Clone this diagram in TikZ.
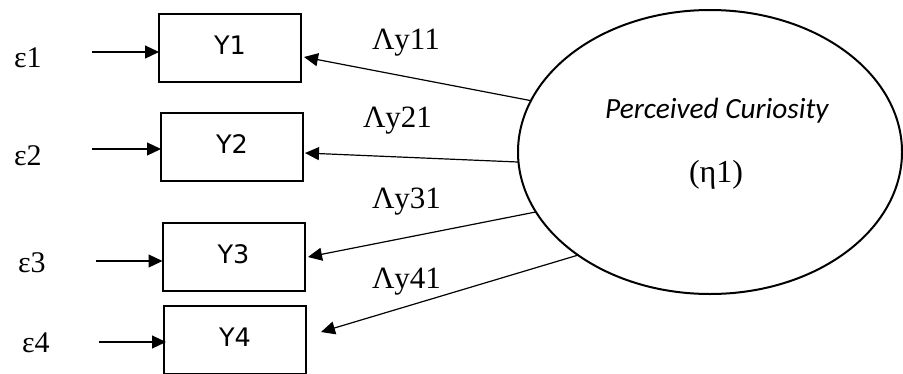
\documentclass[tikz,border=0pt]{standalone}
\usepackage{fontspec}
\setmainfont{Liberation Serif}
\newfontfamily\boxfont{DejaVu Sans}
\newfontfamily\calfont{Carlito}
\usetikzlibrary{shapes.geometric,arrows.meta}

\begin{document}
\begin{tikzpicture}[x=1pt,y=-1pt,
  obs/.style={draw,line width=2pt,minimum width=142pt,minimum height=68pt,
    inner sep=0pt,outer sep=0pt,text depth=5pt,
    font=\boxfont\fontsize{25.5}{28}\selectfont},
  arr/.style={line width=1.2pt,-{Triangle[length=14pt,width=13pt]}},
  lbl/.style={anchor=base west,inner sep=0pt,outer sep=0pt,
    font=\fontsize{31}{34}\selectfont},
]
\useasboundingbox (0,0) rectangle (903,373);
\clip (0,0) rectangle (903,373);

% observed indicators
\node[obs] (Y1) at (230,48)  {Y1};
\node[obs] (Y2) at (232,146.5) {Y2};
\node[obs] (Y3) at (233.5,256.5) {Y3};
\node[obs] (Y4) at (235,340) {Y4};

% latent construct
\node[draw,ellipse,line width=2pt,minimum width=384pt,minimum height=284pt,
  inner sep=0pt,outer sep=0pt] (eta) at (710,152) {};
\node[anchor=base west,inner sep=0pt,font=\calfont\itshape\fontsize{29.3}{32}\selectfont]
  (etaname) at (605,118) {Perceived Curiosity};
\node[lbl,font=\fontsize{32}{35}\selectfont] (etasym) at (689,182) {(η1)};

% error terms
\node[lbl,font=\fontsize{30}{33}\selectfont] (e1) at (14,67)  {ε1};
\node[lbl,font=\fontsize{30}{33}\selectfont] (e2) at (14,165) {ε2};
\node[lbl,font=\fontsize{30}{33}\selectfont] (e3) at (18,272) {ε3};
\node[lbl,font=\fontsize{30}{33}\selectfont] (e4) at (22,352) {ε4};

\coordinate (s1) at (92,52);
\coordinate (s2) at (92,149);
\coordinate (s3) at (96,261);
\coordinate (s4) at (99,342);
\draw[arr] (s1) -- (s1 -| Y1.west);
\draw[arr] (s2) -- (s2 -| Y2.west);
\draw[arr] (s3) -- (s3 -| Y3.west);
\draw[arr] (s4) -- ([xshift=2pt]s4 -| Y4.west);

% factor loadings
\coordinate (t1) at (304,57);
\coordinate (t2) at (305,153);
\coordinate (t3) at (308,257);
\coordinate (t4) at (321,332);
\draw[arr] (eta.164.8) -- (t1);
\draw[arr] (eta.183) -- (t2);
\draw[arr] (eta.199) -- (t3);
\draw[arr] (eta.218.5) -- (t4);

\node[lbl] (l1) at (372,49)  {Λy11};
\node[lbl] (l2) at (363,127) {Λy21};
\node[lbl] (l3) at (372,208) {Λy31};
\node[lbl] (l4) at (372,288) {Λy41};
\end{tikzpicture}
\end{document}
